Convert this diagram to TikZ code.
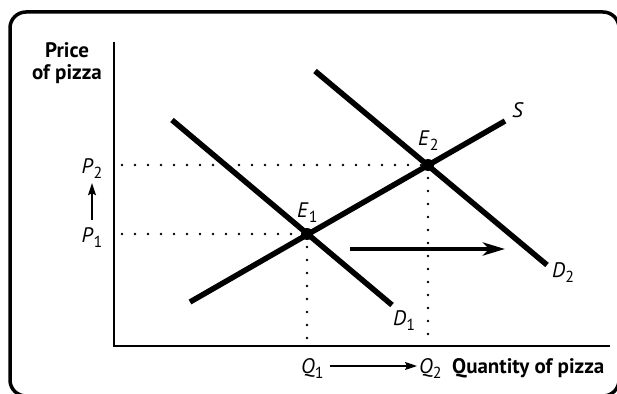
\documentclass[tikz,border=0pt]{standalone}
\usepackage{fontspec}
\setmainfont{PT Sans}
\usetikzlibrary{arrows.meta}
\tikzset{
  curve/.style={line width=5.5pt},
  guide/.style={line width=2.6pt, line cap=round, dash pattern=on 0pt off 13pt},
  lbl/.style={inner sep=0pt, anchor=base west, font=\fontsize{21}{22}\selectfont},
  thin arrow/.style={line width=1.5pt, -{Stealth[length=12pt,width=8pt,inset=2pt]}},
}
\newcommand{\sublbl}[2]{\textit{#1}\raisebox{-5pt}{\fontsize{16}{16}\selectfont #2}}
\begin{document}
\begin{tikzpicture}[x=1pt,y=-1pt]
  \useasboundingbox (0,0) rectangle (617,393);
  \clip (0,0) rectangle (617,393);
  \draw[line width=3.5pt, rounded corners=16pt] (10,12) rectangle (619,396);
  % axes
  \coordinate (O) at (114,346);
  \coordinate (ytop) at (114,42);
  \coordinate (xend) at (610,346);
  \draw[line width=1.5pt] (ytop) -- (O) -- (xend);
  % equilibria
  \coordinate (E1) at (307,234);
  \coordinate (E2) at (428,165);
  \draw[guide] (E2 -| O) ++(8,0) -- (E2);
  \draw[guide] (E1 -| O) ++(8,0) -- (E1);
  \draw[guide] (E1) -- (E1 |- O);
  \draw[guide] (E2) -- (E2 |- O);
  % curves
  \coordinate (s1) at (190,302);
  \coordinate (s2) at (505,121);
  \coordinate (d1a) at (172,120);
  \coordinate (d1b) at (392,305);
  \coordinate (d2a) at (315,71);
  \coordinate (d2b) at (547,265);
  \draw[curve] (s1) -- (s2);
  \draw[curve] (d1a) -- (d1b);
  \draw[curve] (d2a) -- (d2b);
  \fill (E1) circle (6pt);
  \fill (E2) circle (6pt);
  % shift of demand
  \coordinate (sh1) at (350,249);
  \coordinate (sh2) at (505,249);
  \draw[line width=4.5pt, -{Stealth[length=22pt,width=13pt,inset=6pt]}] (sh1) -- (sh2);
  % labels
  \node[lbl, anchor=north, align=center, font=\fontsize{21}{22}\selectfont\bfseries] (price) at (67,42) {Price\\of pizza};
  \node[lbl, anchor=base] (p2) at (92,173) {\sublbl{P}{2}};
  \node[lbl, anchor=base] (p1) at (92,242) {\sublbl{P}{1}};
  \draw[thin arrow, shorten <=7pt, shorten >=5pt] (p1.north) -- (p2.south);
  \node[lbl] (q1) at (301,373) {\sublbl{Q}{1}};
  \node[lbl] (q2) at (419,373) {\sublbl{Q}{2}};
  \draw[thin arrow, shorten <=6pt, shorten >=2pt] ([yshift=7pt]q1.base east) -- ([yshift=7pt]q2.base west);
  \node[lbl, font=\fontsize{21}{22}\selectfont\bfseries] (qty) at (452,373) {Quantity of pizza};
  \node[lbl] (e1) at (297,217) {\sublbl{E}{1}};
  \node[lbl] (e2) at (418,145) {\sublbl{E}{2}};
  \node[lbl] (slbl) at (512,117) {\textit{S}};
  \node[lbl] (d1) at (393,325) {\sublbl{D}{1}};
  \node[lbl] (d2) at (552,277) {\sublbl{D}{2}};
\end{tikzpicture}
\end{document}
